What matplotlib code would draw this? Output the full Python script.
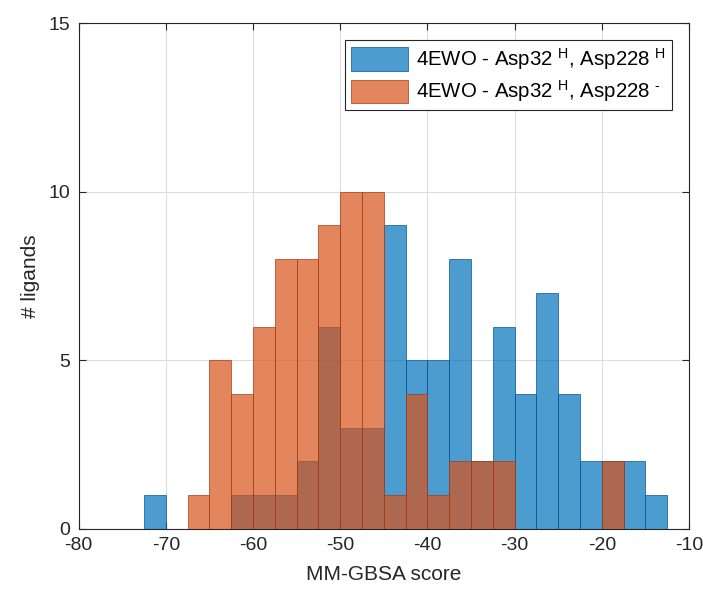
import matplotlib.pyplot as plt
import numpy as np

plt.rcParams['font.family'] = ['Liberation Sans', 'DejaVu Sans']
plt.rcParams['mathtext.fontset'] = 'custom'
plt.rcParams['mathtext.rm'] = 'Liberation Sans'
plt.rcParams['mathtext.default'] = 'regular'
plt.rcParams['axes.unicode_minus'] = False

# histogram counts, bin width 2.5
bin_width = 2.5
blue_start = -72.5
blue_counts = [1, 0, 0, 0, 1, 1, 1, 2, 6, 3, 3, 9, 5, 5, 8, 2, 6, 4, 7, 4, 2, 2, 2, 1]
orange_start = -80.0
orange_counts = [0, 0, 0, 0, 0, 1, 5, 4, 6, 8, 8, 9, 10, 10, 1, 4, 1, 2, 2, 2, 0, 0, 0, 0, 2]

labels = [r'4EWO - Asp32 $^{H}$, Asp228 $^{H}$',
          r'4EWO - Asp32 $^{H}$, Asp228 $^{\text{-}}$']

blue = (0.0, 0.447, 0.741)
orange = (0.85, 0.325, 0.098)

fig = plt.figure(figsize=(7.03, 5.91), dpi=100)
ax = fig.add_axes([0.112, 0.105, 0.868, 0.856])

blue_edges = blue_start + bin_width * np.arange(len(blue_counts))
orange_edges = orange_start + bin_width * np.arange(len(orange_counts))

ax.bar(blue_edges, blue_counts, width=bin_width, align='edge',
       color=blue, alpha=0.7, edgecolor=(0.0, 0.33, 0.6), linewidth=0.7,
       label=labels[0], zorder=2)
ax.bar(orange_edges, orange_counts, width=bin_width, align='edge',
       color=orange, alpha=0.7, edgecolor=(0.65, 0.22, 0.06), linewidth=0.7,
       label=labels[1], zorder=3)

ax.set_xlim(-80, -10)
ax.set_ylim(0, 15)
ax.set_xticks(np.arange(-80, -9, 10))
ax.set_yticks([0, 5, 10, 15])
ax.grid(True, color='#dcdcdc', linewidth=0.8, zorder=0)
ax.set_axisbelow(True)
ax.tick_params(direction='in', length=5, width=0.8, top=True, right=True,
               labelsize=14, colors='#262626', pad=6)
for s in ax.spines.values():
    s.set_color('#262626')
    s.set_linewidth(0.8)

ax.set_xlabel('MM-GBSA score', fontsize=15, color='#262626', labelpad=8)
ax.set_ylabel('# ligands', fontsize=15, color='#262626', labelpad=6)

leg = ax.legend(loc='upper right', fontsize=14.7, fancybox=False, framealpha=1,
                edgecolor='#262626', handlelength=2.75, handleheight=1.4,
                borderpad=0.3, handletextpad=0.4, labelspacing=0.3,
                borderaxespad=0, bbox_to_anchor=(0.972, 0.966))
leg.get_frame().set_linewidth(0.8)

fig.savefig('out.png', dpi=100)
